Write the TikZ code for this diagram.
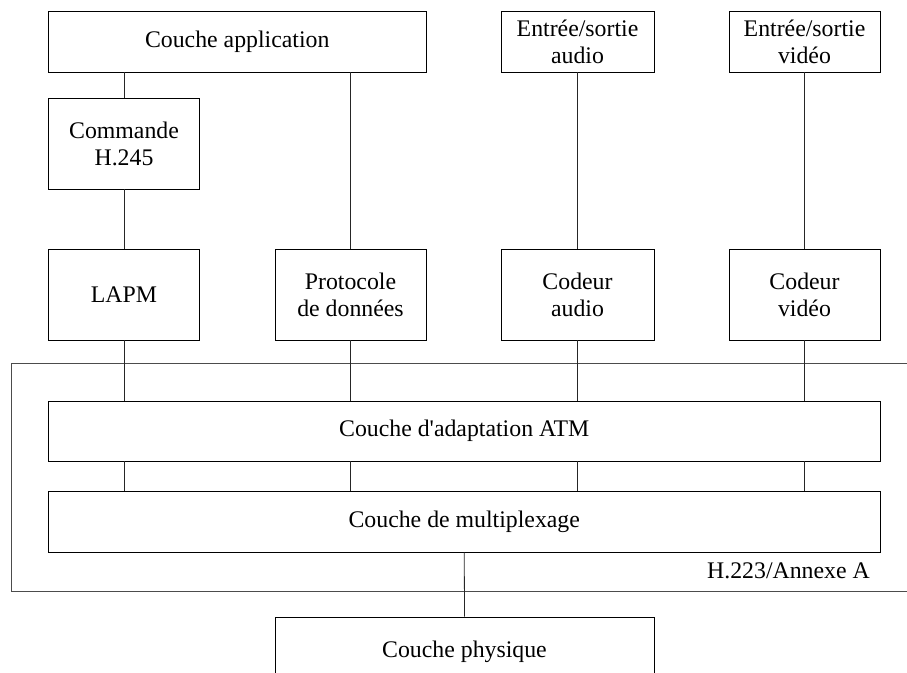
\documentclass[tikz,border=0pt]{standalone}
\usepackage{fontspec}
\setmainfont{Liberation Serif}[Ligatures=TeXOff]
\begin{document}
\begin{tikzpicture}[x=1pt,y=-1pt,
  box/.style={draw, line width=0.8pt, inner sep=0pt, align=center, anchor=center,
              font=\fontsize{23.8}{27}\selectfont},
  conn/.style={line width=0.8pt, draw=black!85},
  frame/.style={line width=0.8pt, draw=black!70}]
\useasboundingbox (0,0) rectangle (907,672);
\clip (0,0) rectangle (907,672);
% top row
\node[box, minimum width=377.5pt, minimum height=61pt] (app) at (237.25,41.5) {Couche application};
\node[box, minimum width=153pt, minimum height=61pt] (ioa) at (577.5,41.5) {Entrée/sortie\\audio};
\node[box, minimum width=151pt, minimum height=61pt] (iov) at (804.5,41.5) {Entrée/sortie\\vidéo};
% second row
\node[box, minimum width=151pt, minimum height=91pt] (cmd) at (124,143.5) {Commande\\H.245};
% third row
\node[box, minimum width=151pt, minimum height=91pt] (lapm) at (124,294.5) {LAPM};
\node[box, minimum width=151pt, minimum height=91pt] (prot) at (350.5,294.5) {Protocole\\de données};
\node[box, minimum width=153pt, minimum height=91pt] (coda) at (577.5,294.5) {Codeur\\audio};
\node[box, minimum width=151pt, minimum height=91pt] (codv) at (804.5,294.5) {Codeur\\vidéo};
% layers
\node[box, minimum width=831.5pt, minimum height=60pt] (atm) at (464.25,431) {Couche d'adaptation ATM};
\node[box, minimum width=831.5pt, minimum height=61pt] (mux) at (464.25,521.5) {Couche de multiplexage};
\node[box, minimum width=379pt, minimum height=70pt] (phy) at (464.5,652) {Couche physique};
% frame H.223
\coordinate (ftr) at (910,363);
\coordinate (fbr) at (910,591);
\draw[frame] (ftr) -- (11,363) -- (11,591) -- (fbr);
\node[anchor=base east, inner sep=0pt, font=\fontsize{23.8}{27}\selectfont] (lbl) at (870,578) {H.223/Annexe A};
% connectors
\draw[conn] (cmd.north |- app.south) -- (cmd.north);
\draw[conn] (cmd.south) -- (lapm.north);
\draw[conn] (lapm.south) -- (lapm.south |- atm.north);
\draw[conn] (lapm.south |- atm.south) -- (lapm.south |- mux.north);
\draw[conn] (prot.north |- app.south) -- (prot.north);
\draw[conn] (prot.south) -- (prot.south |- atm.north);
\draw[conn] (prot.south |- atm.south) -- (prot.south |- mux.north);
\draw[conn] (ioa.south) -- (coda.north);
\draw[conn] (coda.south) -- (coda.south |- atm.north);
\draw[conn] (coda.south |- atm.south) -- (coda.south |- mux.north);
\draw[conn] (iov.south) -- (codv.north);
\draw[conn] (codv.south) -- (codv.south |- atm.north);
\draw[conn] (codv.south |- atm.south) -- (codv.south |- mux.north);
\draw[conn] (mux.south) -- (phy.north);
\end{tikzpicture}
\end{document}
